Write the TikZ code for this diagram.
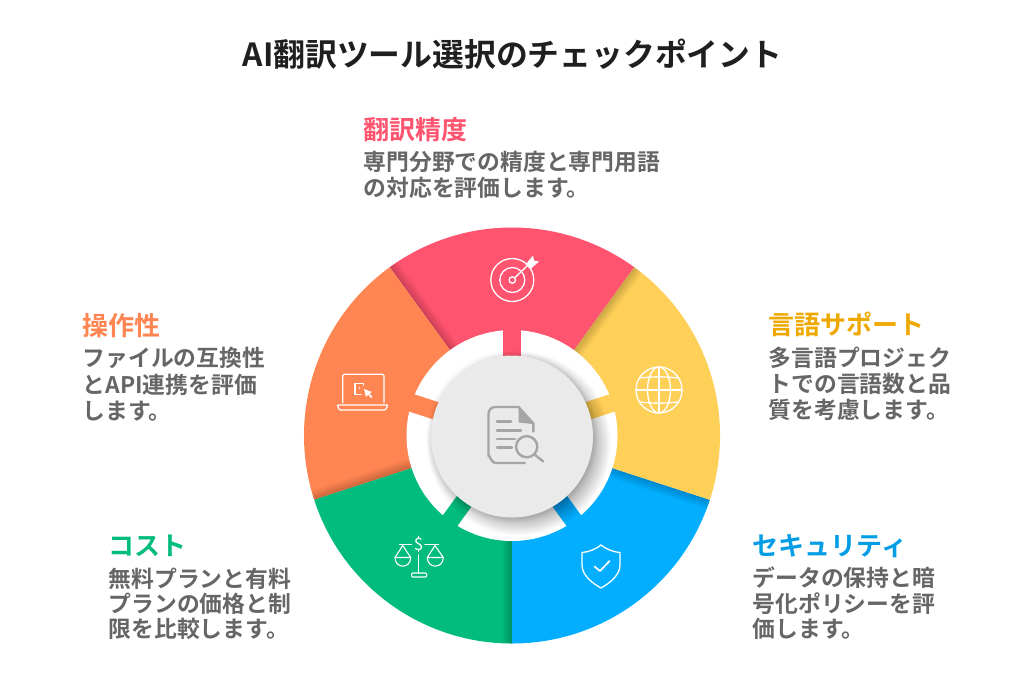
\documentclass[tikz,border=0pt]{standalone}
\usepackage{fontspec}
\setmainfont{Noto Sans CJK JP}[BoldFont={Noto Sans CJK JP Bold}]
\newfontfamily\jpb{Noto Sans CJK JP Bold}
\definecolor{cred}{HTML}{FF5470}
\definecolor{cyel}{HTML}{FFD058}
\definecolor{cyeltxt}{HTML}{EFA800}
\definecolor{cblu}{HTML}{03AEFF}
\definecolor{cgrn}{HTML}{02BC7D}
\definecolor{corg}{HTML}{FF8652}
\definecolor{cdisc}{HTML}{EAEAEA}
\definecolor{cicon}{HTML}{A5A5A8}
\definecolor{cbody}{HTML}{666666}
\definecolor{ctitle}{HTML}{1F1F1F}
\tikzset{
  ttl/.style={anchor=base,inner sep=0pt,font=\jpb\fontsize{31.8}{31.8}\selectfont,text=ctitle},
  hd/.style={anchor=base west,inner sep=0pt,font=\jpb\fontsize{26}{26}\selectfont},
  bd/.style={anchor=base west,inner sep=0pt,font=\jpb\fontsize{22.8}{22.8}\selectfont,text=cbody},
  ico/.style={draw=white,line width=1.3pt,line cap=round,line join=round},
  doc/.style={draw=cicon,line width=2.4pt,line cap=round,line join=round}
}
\newcommand{\sector}[3]{%
  \begin{scope}
    \clip (0,0) -- (#1:208) arc[start angle=#1,end angle=#2,radius=208] -- cycle;
    \fill[#3] (-210,-210) rectangle (210,210);
    \foreach \w in {2,4,...,20}{\draw[black,opacity=.018,line width=\w pt] (0,0) -- (#2:210);}
  \end{scope}}
\newcommand{\tabbar}[2]{\fill[#2,rotate=#1] (78,-9) rectangle (106,9);}
\begin{document}
\begin{tikzpicture}[x=1pt,y=-1pt]
\useasboundingbox (0,0) rectangle (1024,689);
\fill[white] (0,0) rectangle (1024,689);
% wheel
\begin{scope}[shift={(512,435.5)},y=1pt]
  \sector{54}{126}{cred}
  \sector{126}{198}{corg}
  \sector{198}{270}{cgrn}
  \sector{270}{342}{cblu}
  \sector{-18}{54}{cyel}
  \fill[white] (0,0) circle[radius=105.5];
  \tabbar{90}{cred}
  \tabbar{162}{corg}
  \tabbar{234}{cgrn}
  \tabbar{306}{cblu}
  \tabbar{18}{cyel}
  \begin{scope}
    \clip (0,0) circle[radius=105.5];
    \foreach \r in {82,83,...,86}{\fill[black,opacity=.01] (0,-1) circle[radius=\r];}
    \foreach \r in {72,73,...,92}{\fill[black,opacity=.015] (7,-8) circle[radius=\r];}
  \end{scope}
  \fill[cdisc] (0,-1) circle[radius=81];
\end{scope}
% document icon
\draw[doc] (525,463) -- (495,463) to[out=180,in=90] (488.5,456) -- (488.5,414) to[out=90,in=180] (495,407) -- (518.5,407) -- (533.3,423.5) -- (533.3,431.5);
\fill[cicon,draw=cicon,line width=1pt,line join=round] (519,408) -- (532.5,423.5) -- (519,422) -- cycle;
\draw[doc] (497,421.5) -- (511,421.5) (497,430.5) -- (521,430.5) (497,439) -- (515,439) (497,447.5) -- (512,447.5);
\draw[doc] (526.7,446.7) circle[radius=10.6];
\draw[doc] (534.5,454.5) -- (543.3,461.5);
% target icon
\draw[ico] (512.3,280) circle[radius=21.5];
\draw[ico] (512.3,280) circle[radius=12.5];
\draw[ico] (512.3,280) circle[radius=3.2];
\draw[ico] (514.5,278) -- (527,266);
\fill[white] (525.5,264.5) -- (533,255.5) -- (534,260.5) -- (539,261.5) -- (530.5,269) -- (528,267) -- cycle;
% globe icon
\draw[ico] (659,390) circle[radius=23];
\draw[ico] (659,390) ellipse[x radius=11.5,y radius=23];
\draw[ico] (659,367) -- (659,413) (636,390) -- (682,390);
\draw[ico] (640,378) to[bend left=6] (678,378);
\draw[ico] (640,402) to[bend right=6] (678,402);
% shield icon
\draw[ico] (601,545) .. controls (606,549) and (613,552) .. (620,552.5) -- (620,565) .. controls (620,575) and (610,583) .. (601,588) .. controls (592,583) and (582,575) .. (582,565) -- (582,552.5) .. controls (589,552) and (596,549) .. (601,545) -- cycle;
\draw[ico,line width=1.7pt] (594.5,566.5) -- (600,571) -- (609.5,561);
% scales icon
\draw[ico,line width=1.1pt] (399.5,544.3) -- (411.5,544.3) (425,544.3) -- (438.5,544.3);
\draw[ico,line width=1.1pt] (418.7,555) -- (418.7,573);
\draw[ico,line width=1.1pt,rounded corners=1pt] (411.7,573) rectangle (426.7,577);
\draw[ico,line width=1.1pt] (395,557.5) -- (402.7,545.5) -- (410.7,557.5) -- cycle;
\draw[ico,line width=1.1pt] (395,557.5) .. controls (395,569) and (410.7,569) .. (410.7,557.5);
\draw[ico,line width=1.1pt] (427.3,557.5) -- (435,545.5) -- (443.3,557.5) -- cycle;
\draw[ico,line width=1.1pt] (427.3,557.5) .. controls (427.3,569) and (443.3,569) .. (443.3,557.5);
\node[inner sep=0pt,text=white,font=\fontspec{Noto Sans CJK JP}\fontsize{17}{17}\selectfont] (dollar) at (418.7,544) {\$};
% laptop icon
\draw[ico,rounded corners=1.5pt] (342.7,402.7) -- (342.7,374.3) -- (384,374.3) -- (384,402.7);
\draw[ico,line join=round,rounded corners=1pt] (337,405) -- (388,405) -- (385.5,410) -- (339.5,410) -- cycle;
\draw[ico,line width=1.1pt] (363.3,385) -- (363.3,383.3) -- (355,383.3) -- (355,394.3) -- (361,394.3);
\fill[white] (359.5,388) circle[radius=.9];
\fill[white] (364,389) -- (372,392) -- (369.5,393.5) -- (372.5,397) -- (371,398) -- (368,394.5) -- (366,397) -- cycle;
% title
\node[ttl] (title) at (512.5,66) {AI翻訳ツール選択のチェックポイント};
% red
\node[hd,text=cred] (h1) at (363.5,139) {翻訳精度};
\node[bd] (b1a) at (363.5,170.5) {専門分野での精度と専門用語};
\node[bd] (b1b) at (363.5,196) {の対応を評価します。};
% yellow
\node[hd,text=cyeltxt] (h2) at (768.5,334) {言語サポート};
\node[bd] (b2a) at (768.5,366) {多言語プロジェク};
\node[bd] (b2b) at (768.5,392.5) {トでの言語数と品};
\node[bd] (b2c) at (768.5,418.5) {質を考慮します。};
% orange
\node[hd,text=corg] (h3) at (82.5,335) {操作性};
\node[bd] (b3a) at (82.5,366.5) {ファイルの互換性};
\node[bd] (b3b) at (82.5,393) {とAPI連携を評価};
\node[bd] (b3c) at (82.5,419) {します。};
% green
\node[hd,text=cgrn] (h4) at (108.5,555) {コスト};
\node[bd] (b4a) at (108.5,587) {無料プランと有料};
\node[bd] (b4b) at (108.5,612.5) {プランの価格と制};
\node[bd] (b4c) at (108.5,637.5) {限を比較します。};
% blue
\node[hd,text=cblu!90!black] (h5) at (752.5,555) {セキュリティ};
\node[bd] (b5a) at (752.5,586.5) {データの保持と暗};
\node[bd] (b5b) at (752.5,612.5) {号化ポリシーを評};
\node[bd] (b5c) at (752.5,637.5) {価します。};
\end{tikzpicture}
\end{document}
